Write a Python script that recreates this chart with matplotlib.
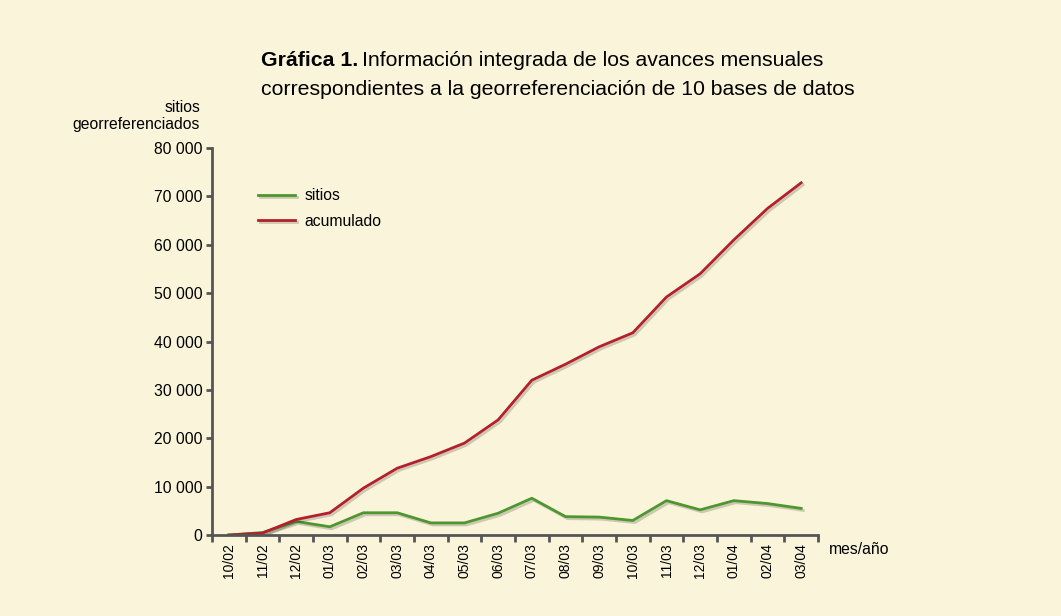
import matplotlib
matplotlib.use("Agg")
import matplotlib.pyplot as plt
import matplotlib.patheffects as pe
from matplotlib.ticker import FuncFormatter, FixedLocator
import numpy as np

plt.rcParams['font.family'] = ['Liberation Sans', 'DejaVu Sans']

meses = ['10/02', '11/02', '12/02', '01/03', '02/03', '03/03', '04/03', '05/03',
         '06/03', '07/03', '08/03', '09/03', '10/03', '11/03', '12/03', '01/04',
         '02/04', '03/04']
sitios = [0, 500, 2800, 1700, 4600, 4600, 2500, 2500, 4500, 7600, 3800, 3700,
          3000, 7100, 5200, 7100, 6500, 5500]
acumulado = [0, 400, 3200, 4600, 9700, 13800, 16200, 19000, 23800, 32000, 35300,
             38900, 41800, 49200, 54000, 61000, 67500, 72800]

bg = '#faf5da'
axis_col = '#555555'
W, H = 1061, 616

fig = plt.figure(figsize=(W / 100, H / 100), dpi=100, facecolor=bg)
ax = fig.add_axes([212 / W, 1 - 535 / H, 606 / W, 387 / H])
ax.set_facecolor('none')

x = np.arange(len(meses))
shadow = [pe.SimpleLineShadow(offset=(1.5, -1.5), alpha=0.18), pe.Normal()]
ax.plot(x, sitios, color='#4e9630', lw=2, label='sitios', path_effects=shadow)
ax.plot(x, acumulado, color='#b3202c', lw=2, label='acumulado', path_effects=shadow)

ax.set_xlim(-0.5, len(meses) - 0.5)
ax.set_ylim(0, 80000)
ax.set_yticks(np.arange(0, 80001, 10000))
ax.yaxis.set_major_formatter(FuncFormatter(lambda v, p: f'{int(v):,}'.replace(',', ' ')))

ax.set_xticks(x)
ax.set_xticklabels(meses, rotation=90, fontsize=10)
ax.xaxis.set_minor_locator(FixedLocator(np.arange(-0.5, len(meses), 1)))
ax.tick_params(axis='x', which='major', length=0, pad=6)
ax.tick_params(axis='x', which='minor', length=5, width=2, color=axis_col)
ax.tick_params(axis='y', length=4, width=2, color=axis_col, labelsize=11.3, pad=3)

for s in ['top', 'right']:
    ax.spines[s].set_visible(False)
for s in ['left', 'bottom']:
    ax.spines[s].set_color(axis_col)
    ax.spines[s].set_linewidth(2)

ax.legend(loc='upper left', bbox_to_anchor=(0.065, 0.912), frameon=False,
          fontsize=11.3, handlelength=2.4, handletextpad=0.6, labelspacing=0.65,
          borderaxespad=0)

# y axis title, two lines right-aligned
fig.text(200 / W, 1 - 112 / H, 'sitios', ha='right', va='baseline', fontsize=11.3)
fig.text(200 / W, 1 - 129 / H, 'georreferenciados', ha='right', va='baseline', fontsize=11.3)
fig.text(829 / W, 1 - 550 / H, 'mes/año', ha='left', va='center', fontsize=11.3)

# title: bold prefix then regular text
t1 = fig.text(261 / W, 1 - 66 / H, 'Gráfica 1.', ha='left', va='baseline',
              fontsize=15.3, fontweight='bold')
fig.canvas.draw()
bb = t1.get_window_extent()
fig.text((bb.x1 + 4) / W, 1 - 66 / H, 'Información integrada de los avances mensuales',
         ha='left', va='baseline', fontsize=15.3)
fig.text(261 / W, 1 - 95 / H, 'correspondientes a la georreferenciación de 10 bases de datos',
         ha='left', va='baseline', fontsize=15.3)

fig.savefig('out.png', dpi=100, facecolor=bg)
